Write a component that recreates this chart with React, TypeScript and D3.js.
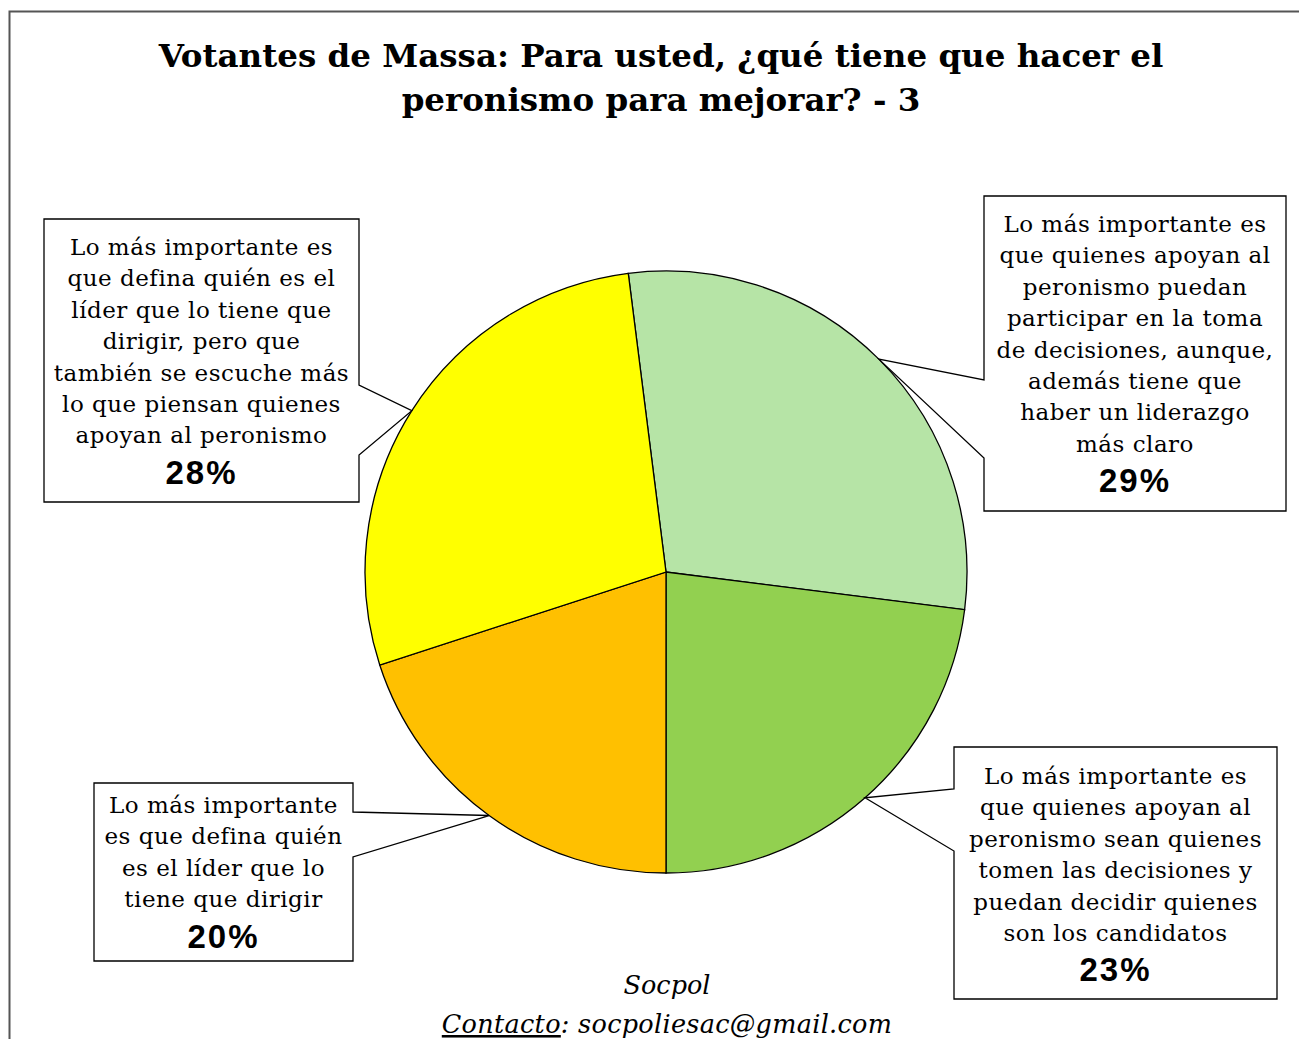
import { useEffect, useRef } from "react";
import * as d3 from "d3";

const W = 1299;
const H = 1039;

const titleLines = [
  "Votantes de Massa: Para usted, ¿qué tiene que hacer el",
  "peronismo para mejorar? - 3",
];

// slices in clockwise order, first one starts just left of 12 o'clock
const categories = ["liderazgo_y_participacion", "deciden_quienes_apoyan", "defina_lider", "lider_y_escucha"];
const values = [29, 23, 20, 28];
const colors = ["#B6E4A6", "#92D050", "#FFC000", "#FFFF00"];
const startDeg = -7.2;

const labelLines = [
  [
    "Lo más importante es",
    "que quienes apoyan al",
    "peronismo puedan",
    "participar en la toma",
    "de decisiones, aunque,",
    "además tiene que",
    "haber un liderazgo",
    "más claro",
  ],
  [
    "Lo más importante es",
    "que quienes apoyan al",
    "peronismo sean quienes",
    "tomen las decisiones y",
    "puedan decidir quienes",
    "son los candidatos",
  ],
  [
    "Lo más importante",
    "es que defina quién",
    "es el líder que lo",
    "tiene que dirigir",
  ],
  [
    "Lo más importante es",
    "que defina quién es el",
    "líder que lo tiene que",
    "dirigir, pero que",
    "también se escuche más",
    "lo que piensan quienes",
    "apoyan al peronismo",
  ],
];

// callout boxes: x0,y0,x1,y1, side of the wedge, wedge start/end along that side
const boxes = [
  { x0: 984, y0: 196, x1: 1286, y1: 511, side: "left", w0: 380, w1: 458, top: 232 },
  { x0: 954, y0: 747, x1: 1277, y1: 999, side: "left", w0: 789, w1: 851, top: 784 },
  { x0: 94, y0: 783, x1: 353, y1: 961, side: "right", w0: 812, w1: 857, top: 813 },
  { x0: 44, y0: 219, x1: 359, y1: 502, side: "right", w0: 385, w1: 455, top: 255 },
];

const serif = "'DejaVu Serif', serif";
const sans = "'Liberation Sans', Arial, sans-serif";

export default function App() {
  const ref = useRef<SVGSVGElement>(null);

  useEffect(() => {
    const svg = d3.select(ref.current);
    svg.selectAll("*").remove();

    svg.append("rect").attr("width", W).attr("height", H).attr("fill", "#fff");

    // outer frame
    svg.append("path")
      .attr("d", `M9.5,${H} V11.5 H${W}`)
      .attr("fill", "none")
      .attr("stroke", "#555")
      .attr("stroke-width", 2);

    const title = svg.append("text")
      .attr("text-anchor", "middle")
      .attr("font-family", serif)
      .attr("font-weight", "bold")
      .attr("font-size", 32.5)
      .attr("fill", "#000");
    titleLines.forEach((t, i) => {
      title.append("tspan").attr("x", 661).attr("y", 67 + i * 44).text(t);
    });

    const cx = 666;
    const cy = 572;
    const r = 301;

    const toRad = (d: number) => (d * Math.PI) / 180;
    const pie = d3.pie<number>()
      .sort(null)
      .startAngle(toRad(startDeg))
      .endAngle(toRad(startDeg + 360));
    const arcs = pie(values);
    const arc = d3.arc<d3.PieArcDatum<number>>().innerRadius(0).outerRadius(r);
    const edge = d3.arc<d3.PieArcDatum<number>>().innerRadius(r).outerRadius(r);

    const g = svg.append("g").attr("transform", `translate(${cx},${cy})`);
    g.selectAll("path")
      .data(arcs)
      .enter()
      .append("path")
      .attr("d", arc)
      .attr("fill", (_d, i) => colors[i])
      .attr("stroke", "#000")
      .attr("stroke-width", 1.3)
      .attr("data-cat", (_d, i) => categories[i]);

    arcs.forEach((a, i) => {
      const b = boxes[i];
      const [tx, ty] = edge.centroid(a);
      const px = cx + tx;
      const py = cy + ty;
      let d = "";
      if (b.side === "right") {
        d = `M${b.x0},${b.y0} H${b.x1} V${b.w0} L${px},${py} L${b.x1},${b.w1} V${b.y1} H${b.x0} Z`;
      } else {
        d = `M${b.x0},${b.y0} H${b.x1} V${b.y1} H${b.x0} V${b.w1} L${px},${py} L${b.x0},${b.w0} Z`;
      }
      svg.append("path")
        .attr("d", d)
        .attr("fill", "#fff")
        .attr("stroke", "#000")
        .attr("stroke-width", 1.3)
        .attr("stroke-linejoin", "miter");

      const mx = (b.x0 + b.x1) / 2;
      const lines = labelLines[i];
      const t = svg.append("text")
        .attr("text-anchor", "middle")
        .attr("font-family", serif)
        .attr("font-size", 23)
        .attr("letter-spacing", 0.5)
        .attr("fill", "#000");
      lines.forEach((ln, j) => {
        t.append("tspan").attr("x", mx).attr("y", b.top + j * 31.4).text(ln);
      });
      svg.append("text")
        .attr("x", mx)
        .attr("y", b.top + lines.length * 31.4 + 9)
        .attr("text-anchor", "middle")
        .attr("font-family", sans)
        .attr("font-weight", "bold")
        .attr("font-size", 33)
        .attr("letter-spacing", 2)
        .attr("fill", "#000")
        .text(`${values[i]}%`);
    });

    // footer
    svg.append("text")
      .attr("x", 667)
      .attr("y", 994)
      .attr("text-anchor", "middle")
      .attr("font-family", serif)
      .attr("font-style", "italic")
      .attr("font-size", 25.5)
      .text("Socpol");
    const foot = svg.append("text")
      .attr("x", 667)
      .attr("y", 1033)
      .attr("text-anchor", "middle")
      .attr("font-family", serif)
      .attr("font-style", "italic")
      .attr("font-size", 25.5)
      .attr("letter-spacing", 0.3);
    foot.append("tspan").attr("text-decoration", "underline").text("Contacto");
    foot.append("tspan").text(": socpoliesac@gmail.com");
  }, []);

  return (
    <svg
      ref={ref}
      width={W}
      height={H}
      viewBox={`0 0 ${W} ${H}`}
      style={{ position: "absolute", left: 0, top: 0, display: "block" }}
    />
  );
}
